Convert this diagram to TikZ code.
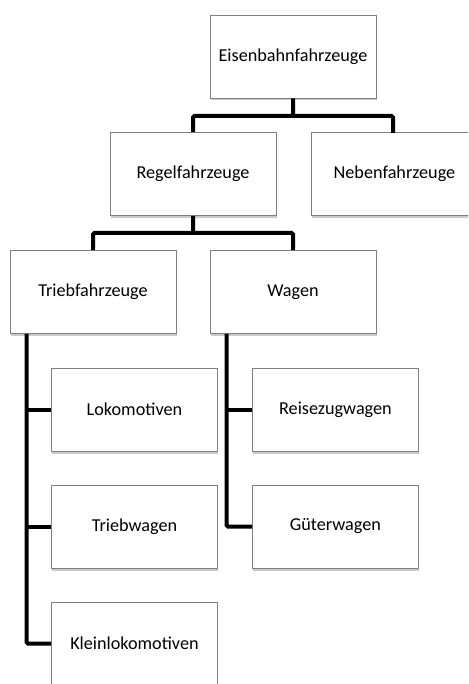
\documentclass[tikz,border=0pt]{standalone}
\usepackage{fontspec}
\setmainfont{Carlito}
\usetikzlibrary{shadows}
\begin{document}
\begin{tikzpicture}[x=1pt,y=-1pt,
  box/.style={draw=black!50,line width=0.9pt,fill=white,minimum width=166pt,minimum height=83pt,
    inner sep=0pt,font=\fontsize{18.2}{20}\selectfont,
    drop shadow={shadow xshift=0.5pt,shadow yshift=-2.5pt,opacity=0.35,fill=black!60}},
  conn/.style={line width=4pt,rounded corners=1.5pt}]
\useasboundingbox (0,0) rectangle (468,684);
\clip (0,0) rectangle (468,684);
\node[box] (eis) at (293,56.5) {Eisenbahnfahrzeuge};
\node[box] (reg) at (193,174) {Regelfahrzeuge};
\node[box,anchor=west] (neb) at (311,174) {Nebenfahrzeuge};
\node[box] (trieb) at (93,292) {Triebfahrzeuge};
\node[box] (wag) at (293,292) {Wagen};
\node[box,anchor=west] (lok) at (51,409.5) {Lokomotiven};
\node[box,anchor=west] (rei) at (252,409.5) {Reisezugwagen};
\node[box,anchor=west] (tw) at (51,526.5) {Triebwagen};
\node[box,anchor=west] (gw) at (252,526.5) {Güterwagen};
\node[box,anchor=west] (kl) at (51,643.5) {Kleinlokomotiven};
\coordinate (j1) at (293,116);
\coordinate (j2) at (193,233);
\coordinate (nebtop) at (393,133);
\draw[conn] (eis.south) -- (j1) -| (reg.north);
\draw[conn] (j1) -| (nebtop);
\draw[conn] (reg.south) -- (j2) -| (trieb.north);
\draw[conn] (j2) -| (wag.north);
\draw[conn] (trieb.south west) ++(17,0) coordinate (tv) |- (kl.west);
\draw[conn] (tv |- lok.west) -- (lok.west);
\draw[conn] (tv |- tw.west) -- (tw.west);
\draw[conn] (wag.south west) ++(17,0) coordinate (wv) |- (gw.west);
\draw[conn] (wv |- rei.west) -- (rei.west);
\end{tikzpicture}
\end{document}
